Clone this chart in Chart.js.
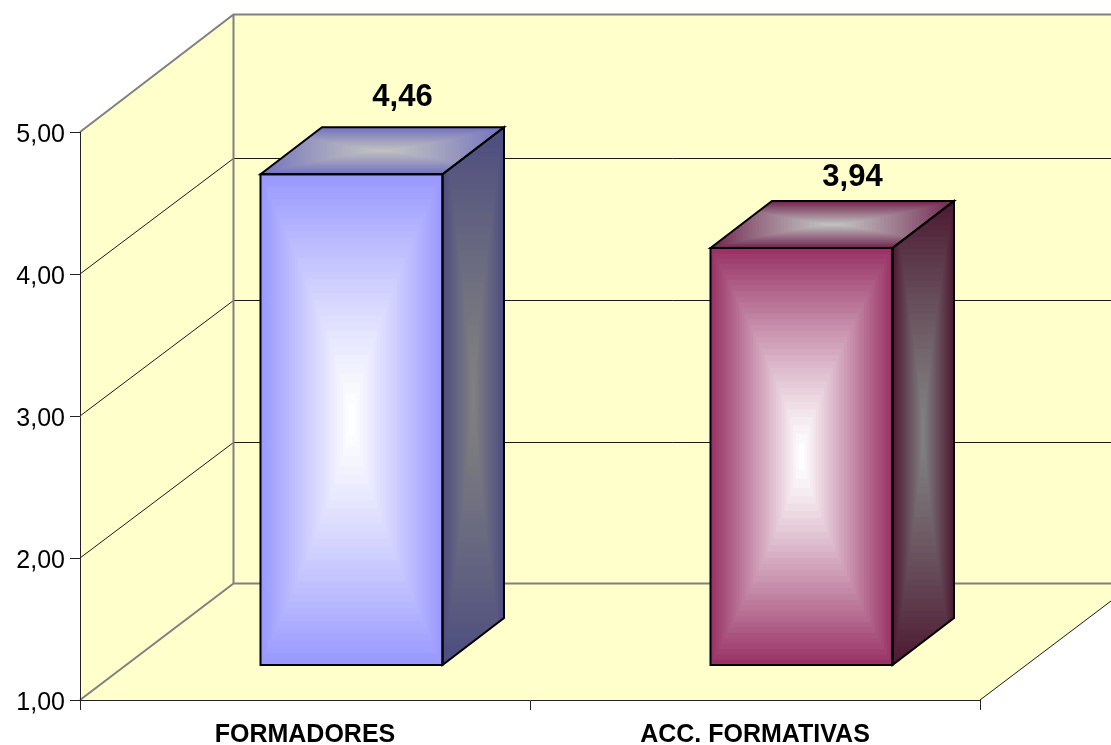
<!DOCTYPE html>
<html>
<head>
<meta charset="utf-8">
<style>
  body { margin: 0; background: #fff; }
  canvas { display: block; }
</style>
</head>
<body>
<canvas id="barChart" width="1111" height="745"></canvas>
<script src="https://cdn.jsdelivr.net/npm/chart.js@4"></script>
<script>
const categories = ["FORMADORES", "ACC. FORMATIVAS"];
const values = [4.46, 3.94];
const valueLabels = ["4,46", "3,94"];
const gridValues = [4, 3, 2];

// colours per bar: front edge, side edge, top edge
const frontColors = ["#9999ff", "#993366"];
const sideColors = ["#4d4d80", "#4d1a33"];
const topColors = ["#7373bf", "#732650"];
const labelLift = [77, 71];

const wallColor = "#ffffcc";
const frameColor = "#808080";

function hexToRgb(hex) {
  return [1, 3, 5].map((i) => parseInt(hex.slice(i, i + 2), 16));
}

function tracePath(ctx, quad) {
  ctx.beginPath();
  quad.forEach((p, n) => (n === 0 ? ctx.moveTo(p[0], p[1]) : ctx.lineTo(p[0], p[1])));
  ctx.closePath();
}

// rectangular gradient over the face's bounding box, clipped to the face.
// the long side closes a bit slower so the highlight stays elongated
function shadeFace(ctx, quad, edge, centre) {
  const xs = quad.map((p) => p[0]);
  const ys = quad.map((p) => p[1]);
  const x0 = Math.min(...xs);
  const x1 = Math.max(...xs);
  const y0 = Math.min(...ys);
  const y1 = Math.max(...ys);
  const w = x1 - x0;
  const h = y1 - y0;
  const a = hexToRgb(edge);
  const b = hexToRgb(centre);
  const steps = 32;

  ctx.save();
  tracePath(ctx, quad);
  ctx.clip();
  for (let i = 0; i < steps; i++) {
    const t = i / (steps - 1);
    const k = 1 - i / steps;
    const c = a.map((v, n) => Math.round(v + (b[n] - v) * t));
    ctx.fillStyle = `rgb(${c[0]},${c[1]},${c[2]})`;
    const rw = w * (w > h ? Math.pow(k, 0.8) : k);
    const rh = h * (h > w ? Math.pow(k, 0.8) : k);
    ctx.fillRect(x0 + (w - rw) / 2, y0 + (h - rh) / 2, rw, rh);
  }
  ctx.restore();
}

// back walls and floor, drawn behind the axes
const wallsPlugin = {
  id: "walls",
  beforeDraw(chart) {
    const ctx = chart.ctx;
    const { left, right, top, bottom } = chart.chartArea;
    const y = chart.scales.y;
    const dx = 153.5;
    const topDy = 117.5;
    const floorDy = 116.5;
    const edgeRise = 99;

    ctx.save();
    ctx.fillStyle = wallColor;
    ctx.beginPath();
    ctx.moveTo(left, top);
    ctx.lineTo(left + dx, top - topDy);
    ctx.lineTo(chart.width, top - topDy);
    ctx.lineTo(chart.width, bottom - edgeRise);
    ctx.lineTo(right, bottom);
    ctx.lineTo(left, bottom);
    ctx.closePath();
    ctx.fill();

    // grid lines on the side and back walls
    ctx.strokeStyle = "#1a1a1a";
    ctx.lineWidth = 1;
    gridValues.forEach((v) => {
      const py = y.getPixelForValue(v);
      const backY = Math.round(py - 116.4) + 0.5;
      ctx.beginPath();
      ctx.moveTo(left, py);
      ctx.lineTo(left + dx, backY);
      ctx.lineTo(chart.width, backY);
      ctx.stroke();
    });

    // frame
    ctx.strokeStyle = frameColor;
    ctx.lineWidth = 2;
    ctx.beginPath();
    ctx.moveTo(left, top);
    ctx.lineTo(left + dx, top - topDy);
    ctx.lineTo(chart.width, top - topDy);
    ctx.moveTo(left + dx, top - topDy);
    ctx.lineTo(left + dx, bottom - floorDy);
    ctx.lineTo(chart.width, bottom - floorDy);
    ctx.moveTo(left + dx, bottom - floorDy);
    ctx.lineTo(left, bottom);
    ctx.stroke();

    // right edge of the floor
    ctx.strokeStyle = "#1a1a1a";
    ctx.lineWidth = 1;
    ctx.beginPath();
    ctx.moveTo(right, bottom);
    ctx.lineTo(chart.width, bottom - edgeRise);
    ctx.stroke();
    ctx.restore();
  },
};

// the bars stand inside the box: shift them, then add the 3D faces and labels
const shift = { x: 46.5, y: -34.5 };
const depth = { x: 61.5, y: -47 };

const boxPlugin = {
  id: "box",
  beforeDatasetDraw(chart) {
    chart.ctx.save();
    chart.ctx.translate(shift.x, shift.y);
  },
  afterDatasetDraw(chart, args) {
    const ctx = chart.ctx;
    ctx.restore();
    const bars = chart.getDatasetMeta(args.index).data;
    bars.forEach((bar, i) => {
      const l = bar.x - bar.width / 2 + shift.x;
      const r = bar.x + bar.width / 2 + shift.x;
      const t = bar.y + shift.y;
      const b = bar.base + shift.y;
      const front = [[l, t], [r, t], [r, b], [l, b]];
      const side = [[r, t], [r + depth.x, t + depth.y], [r + depth.x, b + depth.y], [r, b]];
      const lid = [[l, t], [l + depth.x, t + depth.y], [r + depth.x, t + depth.y], [r, t]];

      ctx.save();
      shadeFace(ctx, front, frontColors[i], "#ffffff");
      shadeFace(ctx, side, sideColors[i], "#808080");
      shadeFace(ctx, lid, topColors[i], "#c0c0c0");
      ctx.strokeStyle = "#000000";
      ctx.lineWidth = 2;
      ctx.lineJoin = "miter";
      [side, lid, front].forEach((quad) => {
        tracePath(ctx, quad);
        ctx.stroke();
      });

      ctx.fillStyle = "#000000";
      ctx.font = 'bold 31px "Liberation Sans"';
      ctx.textAlign = "center";
      ctx.textBaseline = "middle";
      ctx.fillText(valueLabels[i], (l + r) / 2 + 51, t - labelLift[i]);
      ctx.restore();
    });
  },
};

new Chart(document.getElementById("barChart"), {
  type: "bar",
  data: {
    labels: categories,
    datasets: [
      {
        data: values,
        base: 1,
        backgroundColor: frontColors,
        barThickness: 182,
        clip: false,
      },
    ],
  },
  options: {
    responsive: false,
    animation: false,
    layout: { padding: { top: 132, right: 131, left: 0, bottom: 0 } },
    plugins: {
      legend: { display: false },
      tooltip: { enabled: false },
    },
    scales: {
      x: {
        afterFit: (scale) => { scale.height = 45; },
        border: { color: "#222222", width: 1 },
        grid: { drawOnChartArea: false, color: "#222222", tickLength: 10 },
        ticks: {
          color: "#000000",
          padding: 10,
          maxRotation: 0,
          font: { family: "Liberation Sans", size: 25, weight: "bold" },
        },
      },
      y: {
        min: 1,
        max: 5,
        afterFit: (scale) => { scale.width = 80; },
        border: { color: "#222222", width: 1 },
        grid: { drawOnChartArea: false, color: "#222222", tickLength: 10 },
        ticks: {
          stepSize: 1,
          color: "#000000",
          padding: 5,
          labelOffset: 3,
          font: { family: "Liberation Sans", size: 25 },
          callback: (v) => v.toFixed(2).replace(".", ","),
        },
      },
    },
  },
  plugins: [wallsPlugin, boxPlugin],
});
</script>
</body>
</html>
